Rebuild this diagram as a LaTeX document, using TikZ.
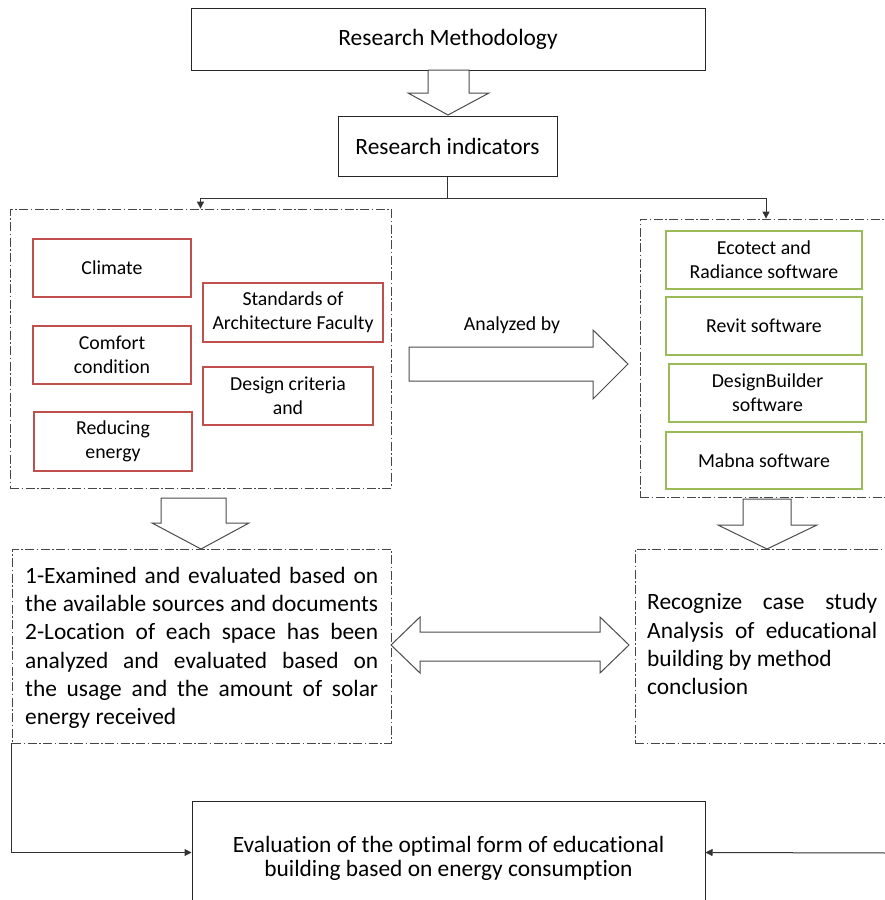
\documentclass[tikz,border=0pt]{standalone}
\usepackage{fontspec}
\setmainfont{Carlito}[Ligatures={NoCommon}]
\usetikzlibrary{arrows.meta,calc}
\definecolor{boxred}{RGB}{192,80,77}
\definecolor{boxgreen}{RGB}{155,187,89}
\definecolor{dashgray}{RGB}{70,70,70}
\begin{document}
\begin{tikzpicture}[x=1pt,y=-1pt,
  bigfont/.style={font=\fontsize{23.4}{28.2}\selectfont},
  smallfont/.style={font=\fontsize{19.8}{24}\selectfont},
  blackbox/.style={draw=black!85, line width=1pt, inner sep=0pt, align=center, bigfont},
  redbox/.style={draw=boxred, line width=1.2pt, inner sep=0pt, align=center, smallfont},
  greenbox/.style={draw=boxgreen, line width=1.2pt, inner sep=0pt, align=center, smallfont},
  groupbox/.style={draw=dashgray, line width=0.8pt, dash pattern=on 9pt off 2.5pt on 1.5pt off 2.5pt, inner sep=0pt},
  hollow/.style={draw=black!70, line width=1pt, fill=white, line join=miter},
  link/.style={draw=black!80, line width=1pt, -{Triangle[length=7pt,width=7pt]}},
  plain/.style={inner sep=0pt}
]
\useasboundingbox (0,0) rectangle (884,900);
\fill[white] (0,0) rectangle (884,900);

% main boxes
\node[blackbox, minimum width=514, minimum height=62] (rm) at (448,39) {Research Methodology};
\node[blackbox, minimum width=219, minimum height=60] (ri) at (447.5,146) {Research indicators};

% group boxes
\node[groupbox, minimum width=381, minimum height=279] (gL) at (200.5,348.5) {};
\node[groupbox, minimum width=252, minimum height=278] (gR) at (766,358) {};
\node[groupbox, minimum width=379, minimum height=194] (lL) at (201.5,646) {};
\node[groupbox, minimum width=257, minimum height=194] (lR) at (763.5,646) {};

% red boxes
\node[redbox, minimum width=158, minimum height=58] (climate) at (112,268) {Climate};
\node[redbox, minimum width=158, minimum height=58] (comfort) at (112,355) {Comfort\\condition};
\node[redbox, minimum width=158, minimum height=59] (reduce) at (113,441.5) {Reducing\\energy};
\node[redbox, minimum width=180, minimum height=59] (standards) at (293,312.5) {Standards of\\Architecture Faculty};
\node[redbox, minimum width=170, minimum height=58] (design) at (288,396) {Design criteria\\and};

% green boxes
\node[greenbox, minimum width=196, minimum height=58] (ecotect) at (764,260) {Ecotect and\\Radiance software};
\node[greenbox, minimum width=196, minimum height=58] (revit) at (764,326) {Revit software};
\node[greenbox, minimum width=197, minimum height=58] (dbuilder) at (767.5,393) {DesignBuilder\\software};
\node[greenbox, minimum width=196, minimum height=57] (mabna) at (764,460.5) {Mabna software};

% bottom box
\node[blackbox, minimum width=513, minimum height=109] (ev) at (448.5,855.5) {};
\node[plain, align=center, font=\fontsize{23.4}{23.5}\selectfont, anchor=base] (evt) at (448.5,876)
  {Evaluation of the optimal form of educational\\building based on energy consumption};

% texts in lower dashed boxes (base anchor = last line's baseline)
\node[plain, bigfont, align=left, anchor=base west] (lLt) at (25,724.5)
  {\makebox[353pt][s]{1-Examined and evaluated based on}\\
   \makebox[353pt][s]{the available sources and documents}\\
   \makebox[353pt][s]{2-Location of each space has been}\\
   \makebox[353pt][s]{analyzed and evaluated based on}\\
   \makebox[353pt][s]{the usage and the amount of solar}\\
   energy received};
\node[plain, bigfont, align=left, anchor=base west] (lRt) at (647,694.5)
  {\makebox[230pt][s]{Recognize case study}\\
   \makebox[230pt][s]{Analysis of educational}\\
   building by method\\
   conclusion};

\node[plain, font=\fontsize{19.8}{24}\selectfont] (anby) at (512,325) {Analyzed by};

% thin connectors
\coordinate (split) at ($(ri.south)+(0,22)$);
\draw[line width=1pt, draw=black!80] (ri.south) -- (split);
\draw[link] (split) -| (gL.north);
\draw[link] (split) -| (gR.north);
\coordinate (evl) at ($(ev.north west)+(0,52)$);
\coordinate (evr) at ($(ev.north east)+(0,52)$);
\coordinate (rstart) at (888,853);
\draw[link] (lL.south west) |- (evl);
\draw[link] (rstart) -- (evr);

% hollow block arrows
\draw[hollow] (428,70) -- (469,70) -- (469,93) -- (489,93) -- (448,115) -- (408,93) -- (428,93) -- cycle;
\draw[hollow] (161,498) -- (226,498) -- (226,523) -- (249,523) -- (201,549) -- (152,523) -- (161,523) -- cycle;
\draw[hollow] (743,499) -- (791,499) -- (791,525) -- (817,525) -- (767,549) -- (718,525) -- (743,525) -- cycle;
\draw[hollow] (409,347) -- (593,347) -- (593,330) -- (628,364) -- (593,399) -- (593,381) -- (409,381) -- cycle;
\draw[hollow] (391,645) -- (420,617) -- (420,632) -- (600,632) -- (600,617) -- (629,645) -- (600,673) -- (600,661) -- (420,661) -- (420,673) -- cycle;
\end{tikzpicture}
\end{document}
